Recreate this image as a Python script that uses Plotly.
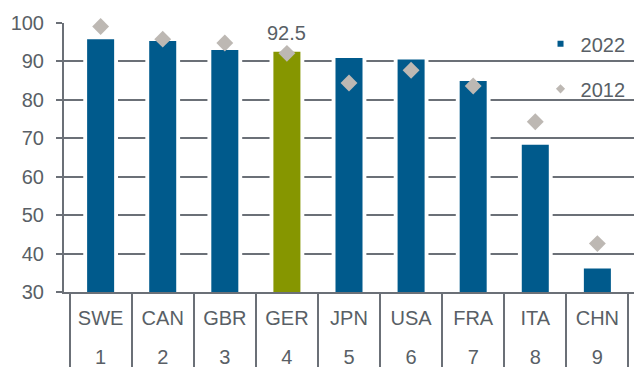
import plotly.graph_objects as go

countries = ["SWE", "CAN", "GBR", "GER", "JPN", "USA", "FRA", "ITA", "CHN"]
ranks = ["1", "2", "3", "4", "5", "6", "7", "8", "9"]
values_2022 = [95.8, 95.3, 93.0, 92.5, 90.9, 90.5, 84.9, 68.3, 36.1]
values_2012 = [99.1, 95.8, 94.8, 92.1, 84.4, 87.7, 83.6, 74.3, 42.6]
highlight = "GER"
highlight_label = "92.5"

BLUE = "#005a8c"
OLIVE = "#869600"
GREY_D = "#bdb8b3"
TXT = "#595f66"
LINE = "#6b7077"

# blank tiny line below the country names pushes the rank row down
country_labels = [c + "<br><span style='font-size:1px'> </span>" for c in countries]
x = [ranks, country_labels]
bar_colors = [OLIVE if c == highlight else BLUE for c in countries]

fig = go.Figure()
# white "halo" bars to break the gridlines around each bar
fig.add_trace(go.Bar(x=x, y=values_2022, width=0.56, marker=dict(color="white", line=dict(width=0)),
                     showlegend=False, hoverinfo="skip"))
fig.add_trace(go.Bar(x=x, y=values_2022, width=0.435, marker=dict(color=bar_colors, line=dict(width=0)),
                     name="2022", showlegend=False))
fig.add_trace(go.Scatter(x=x, y=values_2012, mode="markers", name="2012", showlegend=False,
                         cliponaxis=False,
                         marker=dict(symbol="diamond", size=13, color=GREY_D)))
# legend entries
fig.add_trace(go.Scatter(x=[None], y=[None], mode="markers", name="2022", legendgroup="a",
                         marker=dict(symbol="square", size=6, color=BLUE)))
fig.add_trace(go.Scatter(x=[None], y=[None], mode="markers", name="2012", legendgroup="b",
                         marker=dict(symbol="diamond", size=7, color=GREY_D)))

hi = countries.index(highlight)
fig.add_annotation(x=hi, y=values_2022[hi], text=highlight_label, showarrow=False,
                   yanchor="bottom", yshift=6, font=dict(size=20, color=TXT))

fig.update_layout(
    width=638, height=367,
    margin=dict(l=64, r=4, t=23, b=75),
    paper_bgcolor="white", plot_bgcolor="white",
    barmode="overlay",
    font=dict(family="Liberation Sans, Arial, sans-serif", size=20, color=TXT),
    legend=dict(x=0.836, y=0.995, xanchor="left", yanchor="top", bgcolor="rgba(0,0,0,0)",
                font=dict(size=20, color=TXT), tracegroupgap=16, traceorder="grouped",
                itemwidth=30),
    xaxis=dict(type="multicategory", automargin=False, showline=True, linecolor=LINE, linewidth=2,
               showgrid=False, ticks="", showdividers=True, dividercolor=LINE, dividerwidth=2,
               ticklabelstandoff=7, tickfont=dict(size=20, color=TXT)),
    yaxis=dict(range=[30, 100], dtick=10, automargin=False, showline=True, linecolor=LINE, linewidth=2,
               ticks="outside", ticklen=6, tickcolor=LINE, tickwidth=2,
               showgrid=True, gridcolor=LINE, gridwidth=1.6, zeroline=False,
               ticklabelstandoff=8, tickfont=dict(size=20, color=TXT)),
)

fig.write_html("out.html")
